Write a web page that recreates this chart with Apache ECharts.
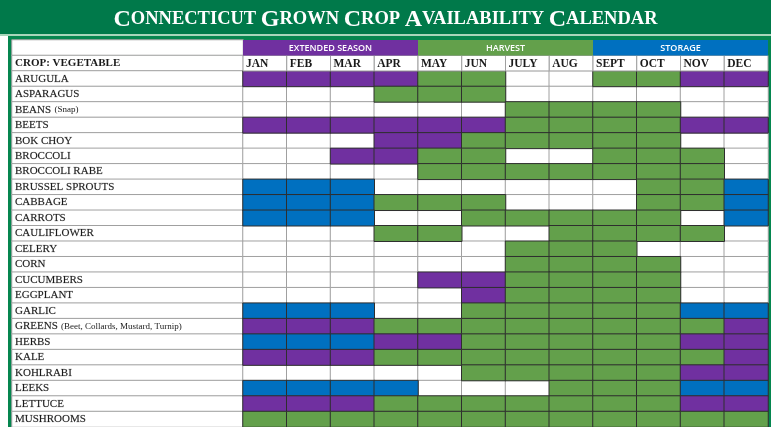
<!DOCTYPE html>
<html><head><meta charset="utf-8">
<script src="https://cdn.jsdelivr.net/npm/echarts@6/dist/echarts.min.js"></script>
<style>html,body{margin:0;padding:0;background:#fff}#c{width:771px;height:427px}</style>
</head><body><div id="c"></div>
<script>
const titleText = 'CONNECTICUT GROWN CROP AVAILABILITY CALENDAR';
const months = ['JAN','FEB','MAR','APR','MAY','JUN','JULY','AUG','SEPT','OCT','NOV','DEC'];
const seasons = ['EXTENDED SEASON','HARVEST','STORAGE'];
const seasonFirstMonth = [0, 4, 8];
const seasonLastMonth = [3, 7, 11];
const headerLabel = 'CROP: VEGETABLE';
const crops = ['ARUGULA','ASPARAGUS','BEANS (Snap)','BEETS','BOK CHOY','BROCCOLI','BROCCOLI RABE',
  'BRUSSEL SPROUTS','CABBAGE','CARROTS','CAULIFLOWER','CELERY','CORN','CUCUMBERS','EGGPLANT',
  'GARLIC','GREENS (Beet, Collards, Mustard, Turnip)','HERBS','KALE','KOHLRABI','LEEKS','LETTUCE','MUSHROOMS'];
// W = not available, G = harvest, P = extended season, B = storage (one letter per month)
const availability = [
  'PPPPGGWWGGPP', // ARUGULA
  'WWWGGGWWWWWW', // ASPARAGUS
  'WWWWWWGGGGWW', // BEANS
  'PPPPPPGGGGPP', // BEETS
  'WWWPPGGGGGWW', // BOK CHOY
  'WWPPGGWWGGGW', // BROCCOLI
  'WWWWGGGGGGGW', // BROCCOLI RABE
  'BBBWWWWWWGGB', // BRUSSEL SPROUTS
  'BBBGGGWWWGGB', // CABBAGE
  'BBBWWGGGGGWB', // CARROTS
  'WWWGGWWGGGGW', // CAULIFLOWER
  'WWWWWWGGGWWW', // CELERY
  'WWWWWWGGGGWW', // CORN
  'WWWWPPGGGGWW', // CUCUMBERS
  'WWWWWPGGGGWW', // EGGPLANT
  'BBBWWGGGGGBB', // GARLIC
  'PPPGGGGGGGGP', // GREENS
  'BBBPPGGGGGPP', // HERBS
  'PPPGGGGGGGGP', // KALE
  'WWWWWGGGGGPP', // KOHLRABI
  'BBBBWWWGGGBB', // LEEKS
  'PPPGGGGGGGPP', // LETTUCE
  'GGGGGGGGGGGG'  // MUSHROOMS
];
const stateColors = { W: '#ffffff', G: '#63a04b', P: '#7030a0', B: '#0070c0' };
const seasonColors = ['#7030a0', '#63a04b', '#0070c0'];

const rows = ['', headerLabel].concat(crops);
const whiteCells = [], colorCells = [];
crops.forEach((c, ci) => {
  availability[ci].split('').forEach((s, mi) => {
    const item = { value: [mi, ci + 2, 1], itemStyle: { color: stateColors[s] } };
    (s === 'W' ? whiteCells : colorCells).push(item);
  });
});

const titleRich = titleText.split(' ').map(w => '{b|' + w[0] + '}{s|' + w.slice(1) + '}').join('{s| }');
const serif = '"Liberation Serif", "DejaVu Serif", serif';

const chart = echarts.init(document.getElementById('c'), null, { renderer: 'canvas' });
chart.setOption({
  animation: false,
  backgroundColor: '#ffffff',
  graphic: [
    { type: 'rect', z: -10, shape: { x: 0, y: 0, width: 771, height: 34 }, style: { fill: '#00794a' } },
    { type: 'rect', z: -10, shape: { x: 0, y: 34, width: 771, height: 2 }, style: { fill: '#a8d6bb' } },
    { type: 'rect', z: -10, shape: { x: 8, y: 36, width: 763, height: 391 }, style: { fill: '#05864f' } }
  ],
  title: {
    text: titleRich,
    left: 'center',
    top: 6,
    padding: 0,
    textStyle: {
      rich: {
        b: { fontFamily: serif, fontWeight: 'bold', fontSize: 24, color: '#ffffff', lineHeight: 27 },
        s: { fontFamily: serif, fontWeight: 'bold', fontSize: 18.5, color: '#ffffff', lineHeight: 27 }
      }
    }
  },
  grid: [
    { left: 12, top: 40, width: 231, height: 387.5 },
    { left: 243, top: 40, width: 525, height: 387.5 }
  ],
  xAxis: [
    { type: 'category', gridIndex: 0, data: ['label'], show: false },
    { type: 'category', gridIndex: 1, data: months, show: false }
  ],
  yAxis: [
    {
      type: 'category', gridIndex: 0, data: rows, inverse: true, z: 10,
      axisLine: { show: false }, axisTick: { show: false }, splitLine: { show: false },
      axisLabel: {
        inside: true, margin: 3, interval: 0,
        formatter: v => {
          if (v === '') return '';
          if (v === headerLabel) return '{h|' + v + '}';
          const m = v.match(/^(.*?) (\(.*\))$/);
          if (m) return '{n|' + m[1] + '} {p|' + m[2] + '}';
          return '{n|' + v + '}';
        },
        rich: {
          h: { fontFamily: serif, fontWeight: 'bold', fontSize: 11, color: '#1a1a1a' },
          n: { fontFamily: serif, fontSize: 11, color: '#1a1a1a', textBorderColor: 'rgba(30,30,30,0.35)', textBorderWidth: 0.4 },
          p: { fontFamily: serif, fontSize: 9, color: '#1a1a1a' }
        }
      }
    },
    { type: 'category', gridIndex: 1, data: rows, inverse: true, show: false }
  ],
  series: [
    {
      type: 'heatmap', xAxisIndex: 0, yAxisIndex: 0, z: 1, silent: true,
      data: rows.map((r, i) => [0, i, 1]),
      itemStyle: { color: '#ffffff', borderColor: '#a0a0a0', borderWidth: 1 },
      emphasis: { disabled: true }
    },
    {
      type: 'heatmap', xAxisIndex: 1, yAxisIndex: 1, z: 1, silent: true,
      data: whiteCells,
      itemStyle: { borderColor: '#a0a0a0', borderWidth: 1 },
      emphasis: { disabled: true }
    },
    {
      type: 'heatmap', xAxisIndex: 1, yAxisIndex: 1, z: 2, silent: true,
      data: colorCells,
      itemStyle: { borderColor: '#2e2e2e', borderWidth: 1 },
      emphasis: { disabled: true }
    },
    {
      type: 'custom', xAxisIndex: 1, yAxisIndex: 1, z: 3, silent: true,
      data: months.map((m, i) => [i, 1]),
      encode: { x: 0, y: 1 },
      renderItem: (params, api) => {
        const c = api.coord([api.value(0), api.value(1)]);
        const sz = api.size([1, 1]);
        return {
          type: 'group',
          children: [
            { type: 'rect', shape: { x: c[0] - sz[0] / 2, y: c[1] - sz[1] / 2, width: sz[0], height: sz[1] },
              style: { fill: '#ffffff', stroke: '#a0a0a0', lineWidth: 1 } },
            { type: 'text', x: c[0] - sz[0] / 2 + 3, y: c[1] + 0.5,
              style: { text: months[params.dataIndex], fill: '#1a1a1a', fontFamily: serif, fontWeight: 'bold', fontSize: 11.5,
                align: 'left', verticalAlign: 'middle' } }
          ]
        };
      }
    },
    {
      type: 'custom', xAxisIndex: 1, yAxisIndex: 1, z: 3, silent: true,
      data: seasons.map((s, i) => [seasonFirstMonth[i], seasonLastMonth[i], 0]),
      encode: { x: [0, 1], y: 2 },
      renderItem: (params, api) => {
        const a = api.coord([api.value(0), api.value(2)]);
        const b = api.coord([api.value(1), api.value(2)]);
        const sz = api.size([1, 1]);
        const x0 = a[0] - sz[0] / 2, x1 = b[0] + sz[0] / 2;
        return {
          type: 'group',
          children: [
            { type: 'rect', shape: { x: x0, y: a[1] - sz[1] / 2, width: x1 - x0, height: sz[1] },
              style: { fill: seasonColors[params.dataIndex] } },
            { type: 'text', x: (x0 + x1) / 2, y: a[1] + 0.5,
              style: { text: seasons[params.dataIndex], fill: '#ffffff', fontFamily: '"Open Sans", "Liberation Sans", sans-serif',
                fontWeight: 600, fontSize: 9, align: 'center', verticalAlign: 'middle' } }
          ]
        };
      }
    }
  ]
});
</script>
</body></html>
